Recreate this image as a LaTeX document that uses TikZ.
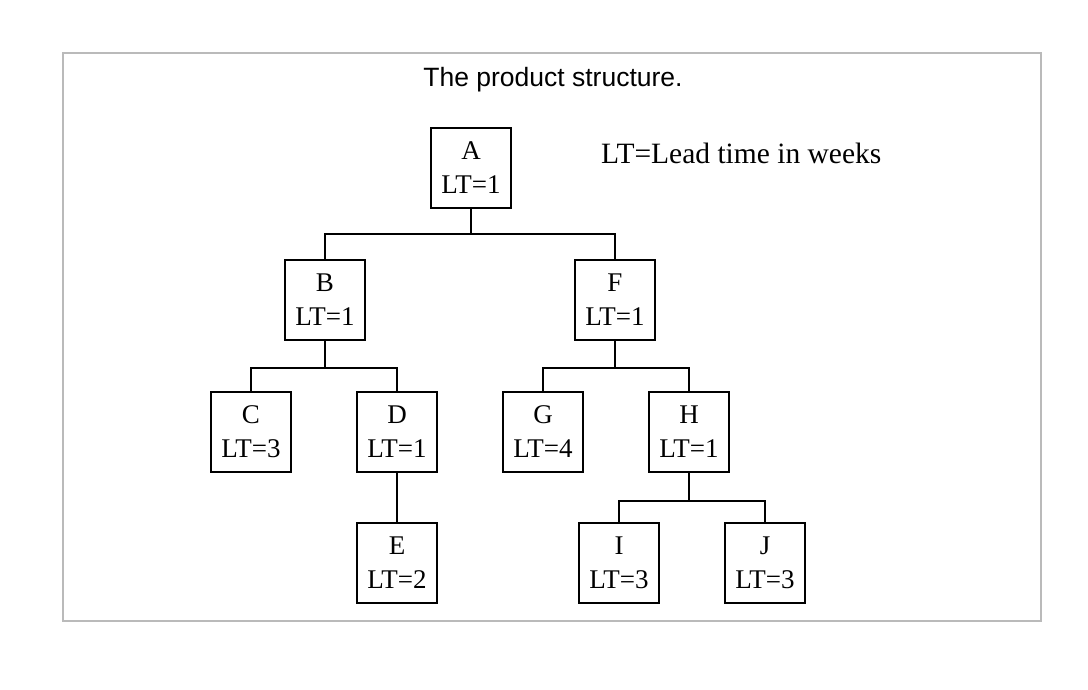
\documentclass[tikz,border=0pt]{standalone}
\usepackage{fontspec}
\setmainfont{Liberation Serif}
\newfontfamily\titlefont{Liberation Sans}
\usepackage{tikz}
\usetikzlibrary{positioning,calc}

\begin{document}
\begin{tikzpicture}[
    x=1pt, y=1pt,
    part/.style={rectangle, draw=black, line width=1.8pt, minimum width=80pt, minimum height=80pt, inner sep=0pt, align=center, font=\fontsize{27}{34}\selectfont},
    link/.style={line width=1.8pt, color=black},
    frame/.style={draw=black!27, line width=2pt}
]
    \useasboundingbox (0,0) rectangle (1088,-690);
    \draw[frame] (63,-53) rectangle (1041,-621);

    % Title and legend
    \node[font=\titlefont\fontsize{26.5}{30}\selectfont] (title) at (553,-80) {The product structure.};
    \node[anchor=west, inner sep=0pt, font=\fontsize{29.5}{34}\selectfont] (legend) at (601,-153) {LT=Lead time in weeks};

    % Level 0
    \node[part] (a) at (471,-168) {A\\LT=1};

    % Level 1
    \node[part] (b) at (325,-300) {B\\LT=1};
    \node[part] (f) at (615,-300) {F\\LT=1};

    % Level 2
    \node[part] (c) at (251,-432) {C\\LT=3};
    \node[part] (d) at (397,-432) {D\\LT=1};
    \node[part] (g) at (543,-432) {G\\LT=4};
    \node[part] (h) at (689,-432) {H\\LT=1};

    % Level 3
    \node[part] (e) at (397,-563) {E\\LT=2};
    \node[part] (i) at (619,-563) {I\\LT=3};
    \node[part] (j) at (765,-563) {J\\LT=3};

    % Connectors
    \draw[link] (a.south) -- ++(0,-25) -| (b.north);
    \draw[link] (a.south) -- ++(0,-25) -| (f.north);
    \draw[link] (b.south) -- ++(0,-27) -| (c.north);
    \draw[link] (b.south) -- ++(0,-27) -| (d.north);
    \draw[link] (f.south) -- ++(0,-27) -| (g.north);
    \draw[link] (f.south) -- ++(0,-27) -| (h.north);
    \draw[link] (d.south) -- (e.north);
    \draw[link] (h.south) -- ++(0,-28) -| (i.north);
    \draw[link] (h.south) -- ++(0,-28) -| (j.north);
\end{tikzpicture}
\end{document}
